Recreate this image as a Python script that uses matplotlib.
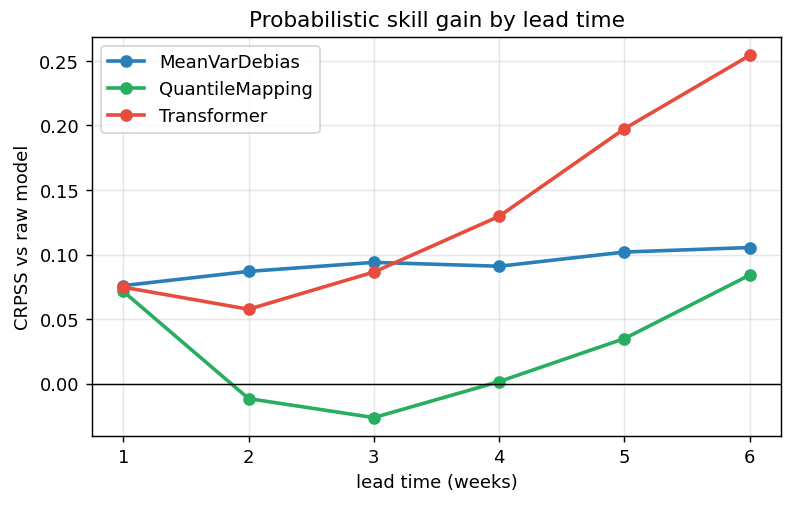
import matplotlib
matplotlib.use("Agg")
import matplotlib.pyplot as plt

lead_weeks = [1, 2, 3, 4, 5, 6]
mean_var_debias = [0.076, 0.087, 0.094, 0.091, 0.102, 0.1055]
quantile_mapping = [0.0715, -0.0115, -0.0262, 0.0017, 0.0350, 0.0842]
transformer = [0.0748, 0.0577, 0.0865, 0.1297, 0.1975, 0.2543]

series = [
    ("MeanVarDebias", mean_var_debias, "#2980b9"),
    ("QuantileMapping", quantile_mapping, "#27ae60"),
    ("Transformer", transformer, "#e74c3c"),
]

fig, ax = plt.subplots(figsize=(6.1, 3.89), dpi=130)
for name, vals, col in series:
    ax.plot(lead_weeks, vals, marker="o", lw=2, color=col, label=name)

ax.axhline(0, color="black", lw=0.8)
ax.set_xticks(lead_weeks)
ax.set_xlabel("lead time (weeks)")
ax.set_ylabel("CRPSS vs raw model")
ax.set_title("Probabilistic skill gain by lead time")
ax.grid(True, alpha=0.3)
ax.legend(loc="upper left")

fig.subplots_adjust(left=0.116, right=0.985, top=0.925, bottom=0.137)
plt.savefig("out.png", dpi=130)
